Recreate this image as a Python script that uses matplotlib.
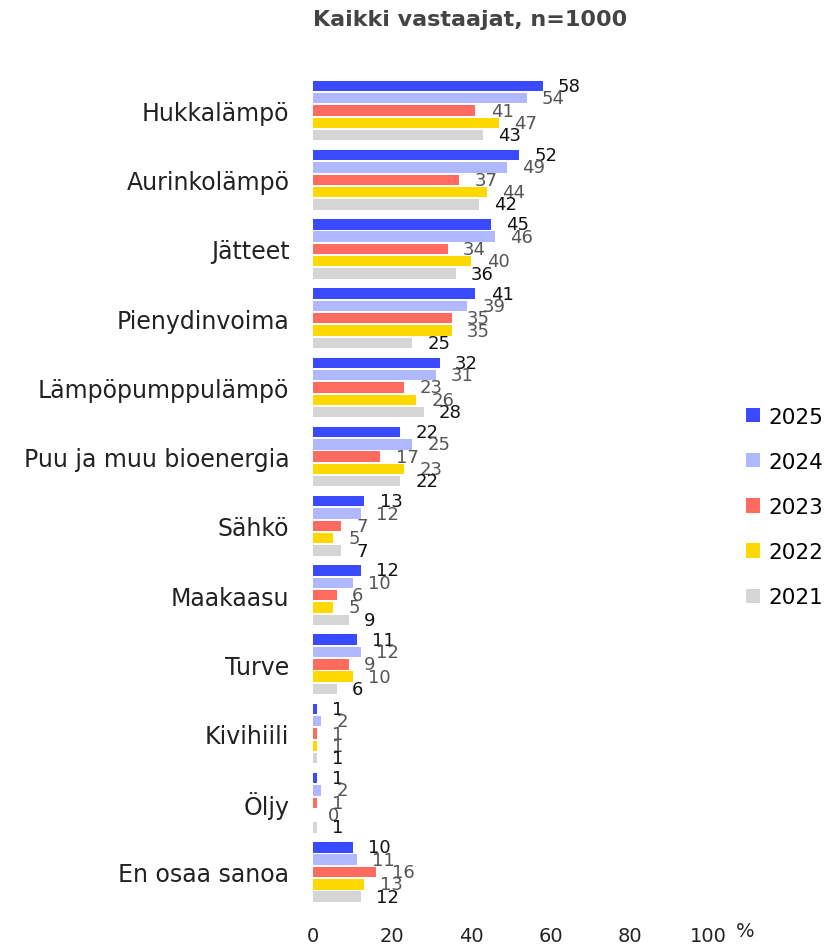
import matplotlib
matplotlib.use("Agg")
import matplotlib.pyplot as plt
import numpy as np

plt.rcParams['font.family'] = ['DejaVu Sans']

categories = ["Hukkalämpö", "Aurinkolämpö", "Jätteet", "Pienydinvoima",
              "Lämpöpumppulämpö", "Puu ja muu bioenergia", "Sähkö", "Maakaasu",
              "Turve", "Kivihiili", "Öljy", "En osaa sanoa"]
years = ["2025", "2024", "2023", "2022", "2021"]
v2025 = [58, 52, 45, 41, 32, 22, 13, 12, 11, 1, 1, 10]
v2024 = [54, 49, 46, 39, 31, 25, 12, 10, 12, 2, 2, 11]
v2023 = [41, 37, 34, 35, 23, 17, 7, 6, 9, 1, 1, 16]
v2022 = [47, 44, 40, 35, 26, 23, 5, 5, 10, 1, 0, 13]
v2021 = [43, 42, 36, 25, 28, 22, 7, 9, 6, 1, 1, 12]
series = [v2025, v2024, v2023, v2022, v2021]
colors = ["#3a4bff", "#b0b8ff", "#ff6b5e", "#ffd800", "#d5d5d5"]
label_colors = ["#111111", "#555555", "#555555", "#555555", "#111111"]
xticks = [0, 20, 40, 60, 80, 100]

fig = plt.figure(figsize=(8.29, 9.45), dpi=100)
ax = fig.add_axes([0.3776, 0.037, 0.855 - 0.3776, 0.9206 - 0.037])

y = np.arange(len(categories))
step = 0.178
height = 0.15
for j, (vals, c, lc, yr) in enumerate(zip(series, colors, label_colors, years)):
    pos = y + (j - 2) * step
    ax.barh(pos, vals, height=height, color=c, label=yr)
    for p, v in zip(pos, vals):
        ax.annotate(str(v), (v, p), xytext=(11, 0), textcoords="offset points",
                    ha="left", va="center", fontsize=13, color=lc)

ax.set_xlim(0, 100)
ax.set_ylim(11.535, -0.527)
ax.set_yticks(y)
ax.set_yticklabels(categories, fontsize=17, color="#222222")
ax.set_xticks(xticks)
ax.set_xticklabels([str(t) for t in xticks], fontsize=14, color="#222222")
ax.tick_params(axis="y", length=0, pad=17)
ax.tick_params(axis="x", length=0, pad=12)
for s in ax.spines.values():
    s.set_visible(False)

fig.text(745 / 829, 1 - 932 / 945, "%", fontsize=14, color="#222222",
         ha="center", va="center")
fig.text(470 / 829, 1 - 20 / 945, "Kaikki vastaajat, n=1000", fontsize=16,
         fontweight="bold", color="#444444", ha="center", va="center")

leg = fig.legend(loc="center left", bbox_to_anchor=(746 / 829, 1 - 508 / 945),
                 frameon=False, fontsize=15.5, handlelength=0.65, handleheight=0.65,
                 labelspacing=1.17, handletextpad=0.4, borderpad=0, borderaxespad=0)

fig.savefig("out.png", dpi=100)
